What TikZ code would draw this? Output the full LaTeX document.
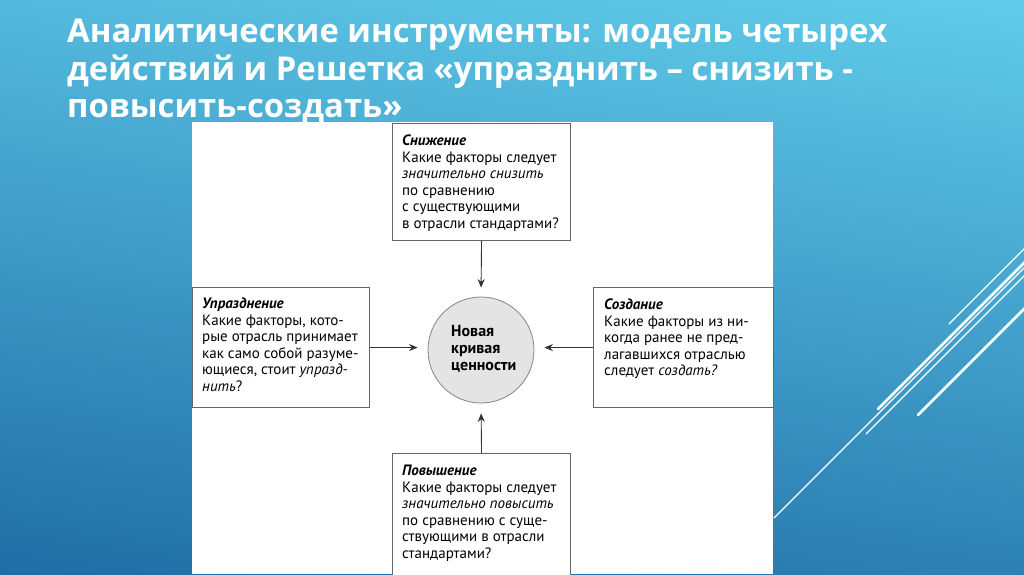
\documentclass[tikz,border=0pt]{standalone}
\usepackage{fontspec}
\setmainfont{PT Sans}
\newfontfamily\titlefont{Open Sans}
\usetikzlibrary{arrows.meta}
\definecolor{bgtop}{HTML}{66D4F0}
\definecolor{bgbot}{HTML}{1A66A0}
\definecolor{boxline}{HTML}{666666}
\definecolor{arrline}{HTML}{333333}
\definecolor{circfill}{HTML}{E4E4E4}
\tikzset{
  boxnode/.style={draw=boxline, line width=1.1pt, fill=white, rectangle, inner sep=0pt, anchor=north west},
  boxtext/.style={anchor=north west, inner sep=0pt, align=left, font=\fontsize{15}{16.5}\selectfont, text=black},
  titletext/.style={anchor=base west, inner sep=0pt, text=white, font=\titlefont\bfseries\fontsize{32.8}{34}\selectfont},
  arr/.style={draw=arrline, line width=0.9pt, -{Stealth[length=8.5pt,width=7pt]}},
  deco/.style={draw=white, line cap=round}
}
\begin{document}
\begin{tikzpicture}[x=1pt,y=-1pt]
\useasboundingbox (0,0) rectangle (1024,574);
\begin{scope}
\clip (0,0) rectangle (1024,574);
\shade[top color=bgtop, bottom color=bgbot, shading angle=-8] (-100,-100) rectangle (1124,674);
\draw[deco, line width=1.1pt] (949,324) -- (1040,233);
\draw[deco, line width=2.6pt] (878,409) -- (1040,247);
\draw[deco, line width=1.1pt] (774,518) -- (1040,252);
\draw[deco, line width=1.1pt] (866,434) -- (1040,260);
\draw[deco, line width=2.6pt] (918,415) -- (1040,293);
% panel
\fill[white] (192,122) rectangle (773,574);
% boxes
\node[boxnode, minimum width=178pt, minimum height=117pt] (snb) at (392,123) {};
\node[boxnode, minimum width=177pt, minimum height=120pt] (upb) at (192,287) {};
\node[boxnode, minimum width=180pt, minimum height=120pt] (sob) at (593,287) {};
\node[boxnode, minimum width=178pt, minimum height=140pt] (pob) at (392,453) {};
\end{scope}
% texts
\node[boxtext] (snt) at (402,135) {\textbf{\textit{Снижение}}\\Какие факторы следует\\\textit{значительно снизить}\\по сравнению\\с существующими\\в отрасли стандартами?};
\node[boxtext] (upt) at (202,298) {\textbf{\textit{Упразднение}}\\Какие факторы, кото-\\рые отрасль принимает\\как само собой разуме-\\ющиеся, стоит \textit{упразд-}\\\textit{нить}?};
\node[boxtext] (sot) at (604,299) {\textbf{\textit{Создание}}\\Какие факторы из ни-\\когда ранее не пред-\\лагавшихся отраслью\\следует \textit{создать?}};
\node[boxtext] (pot) at (402,465) {\textbf{\textit{Повышение}}\\Какие факторы следует\\\textit{значительно повысить}\\по сравнению с суще-\\ствующими в отрасли\\стандартами?};
% circle
\node[circle, draw=boxline!80, line width=0.8pt, fill=circfill, minimum size=106pt, inner sep=0pt] (circ) at (481,350) {};
\node[anchor=north west, inner sep=0pt, align=left, font=\bfseries\fontsize{16}{17}\selectfont] (ct) at (451,325) {Новая\\кривая\\ценности};
% arrows
\draw[arr, shorten >=9pt] (snb.south) -- (circ.north);
\draw[arr, shorten >=10pt] (pob.north) -- (circ.south);
\draw[arr, shorten >=10pt] (upb.east) -- (upb.east -| circ.west);
\draw[arr, shorten >=10pt] (sob.west) -- (sob.west -| circ.east);
% title
\node[titletext] (t1) at (67,42) {Аналитические инструменты: модель четырех};
\node[titletext] (t2) at (67,80) {действий и Решетка «упразднить – снизить -};
\node[titletext] (t3) at (67,117) {повысить-создать»};
\end{tikzpicture}
\end{document}
